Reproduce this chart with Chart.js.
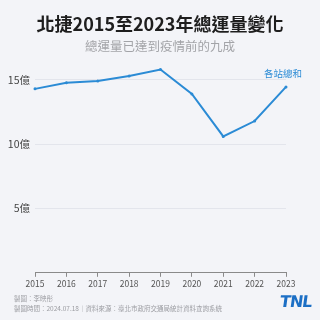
<!DOCTYPE html>
<html>
<head>
<meta charset="utf-8">
<script src="https://cdn.jsdelivr.net/npm/chart.js@4"></script>
<style>
  html, body { margin: 0; padding: 0; background: #f3f4f8; }
  .wrap { position: relative; width: 320px; height: 320px; }
  .title {
    position: absolute; left: 0; top: 11px; width: 320px; text-align: center;
    font-family: "Noto Sans CJK TC", sans-serif; font-weight: bold; font-size: 18px; line-height: 24px; color: #1e1e1e;
  }
  .subtitle {
    position: absolute; left: 0; top: 37px; width: 320px; text-align: center;
    font-family: "Noto Sans CJK TC", sans-serif; font-size: 12.5px; line-height: 18px; color: #a3a4a8;
  }
  .footer {
    position: absolute; left: 14px; top: 293px;
    font-family: "Noto Sans CJK TC", sans-serif; font-size: 6.5px; line-height: 10px; color: #9c9da2;
  }
  .logo {
    position: absolute; left: 280px; top: 292px;
    font-family: "DejaVu Sans", sans-serif; font-weight: bold; font-size: 16px; letter-spacing: -1px;
    color: #1c6fc5; transform: skewX(-8deg);
  }
  canvas { position: absolute; left: 0; top: 0; }
</style>
</head>
<body>
<div class="wrap">
  <canvas id="ridershipChart" width="320" height="320"></canvas>
  <div class="title">北捷2015至2023年總運量變化</div>
  <div class="subtitle">總運量已達到疫情前的九成</div>
  <div class="footer">製圖：李映彤<br>製圖時間：2024.07.18｜資料來源：臺北市政府交通局統計資料查詢系統</div>
  <div class="logo">TNL</div>
</div>
<script>
const years = ['2015', '2016', '2017', '2018', '2019', '2020', '2021', '2022', '2023'];
// total ridership, unit: 億 (100 million)
const ridership = [14.3, 14.77, 14.92, 15.3, 15.8, 13.9, 10.6, 11.8, 14.45];
const seriesName = '各站總和';
const lineColor = '#2b8bd5';

// series label above the end of the line
const seriesLabel = {
    id: 'seriesLabel',
    afterDatasetsDraw(chart) {
        const ctx = chart.ctx;
        ctx.save();
        ctx.font = '9.5px "Noto Sans CJK TC"';
        ctx.fillStyle = lineColor;
        ctx.textAlign = 'right';
        ctx.textBaseline = 'middle';
        ctx.fillText(seriesName, 302, 73);
        ctx.restore();
    }
};

const ctx = document.getElementById('ridershipChart').getContext('2d');
new Chart(ctx, {
    type: 'line',
    data: {
        labels: years,
        datasets: [{
            label: seriesName,
            data: ridership,
            borderColor: lineColor,
            backgroundColor: lineColor,
            borderWidth: 2,
            tension: 0,
            pointRadius: 1.5,
            pointBorderWidth: 0
        }]
    },
    options: {
        responsive: false,
        animation: false,
        layout: { padding: { left: 0, right: 34, bottom: 29, top: 67 } },
        plugins: {
            legend: { display: false },
            tooltip: { enabled: false }
        },
        scales: {
            x: {
                offset: false,
                border: { display: true, color: '#8a8a8a' },
                grid: { drawOnChartArea: false, drawTicks: true, tickLength: 4, color: '#8a8a8a' },
                ticks: {
                    color: '#555',
                    font: { family: '"Noto Sans CJK TC"', size: 8.5 },
                    padding: 2,
                    maxRotation: 0
                }
            },
            y: {
                min: 0,
                max: 16,
                afterFit(scale) { scale.width = 35; },
                border: { display: false },
                grid: {
                    drawTicks: false,
                    color: c => (c.tick && c.tick.value % 5 === 0 && c.tick.value > 0) ? '#e3e5ec' : 'rgba(0,0,0,0)'
                },
                ticks: {
                    stepSize: 5,
                    padding: 5,
                    color: '#444',
                    font: { family: '"Noto Sans CJK TC"', size: 10.5 },
                    callback: v => (v > 0 && v % 5 === 0) ? v + '億' : ''
                }
            }
        }
    },
    plugins: [seriesLabel]
});
</script>
</body>
</html>
